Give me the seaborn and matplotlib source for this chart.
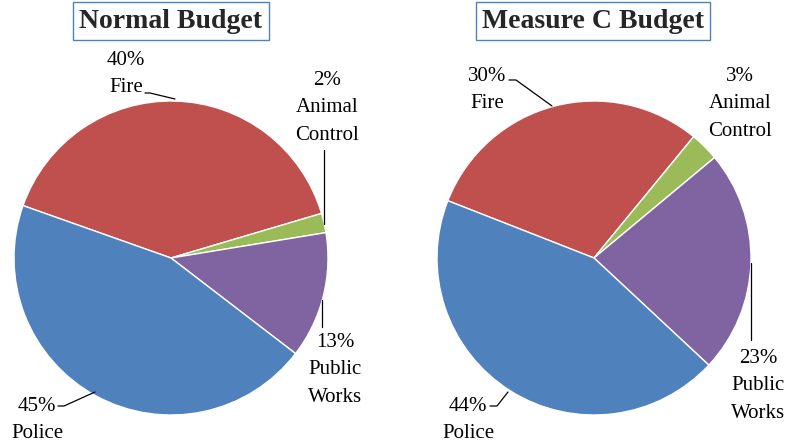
import matplotlib
matplotlib.use("Agg")
import matplotlib.pyplot as plt
import seaborn as sns

# 数据
categories = ["Police", "Fire", "Animal Control", "Public Works"]
normal_values = [45, 40, 2, 13]
measure_c_values = [44, 30, 3, 23]
titles = ["Normal Budget", "Measure C Budget"]

colors = sns.color_palette(["#4F81BD", "#C0504D", "#9BBB59", "#8064A2"])

sns.set_theme(style="white")
plt.rcParams["font.family"] = ["Liberation Serif", "DejaVu Serif"]

W, H = 788, 442
fig = plt.figure(figsize=(W / 100, H / 100), dpi=100)
ax = fig.add_axes([0, 0, 1, 1])

R = 157


# y轴翻转后pie会镜像，所以角度取负，counterclock 取反（视觉上顺时针）
def draw_pie(values, cx, cy, start):
    order = [1, 2, 3, 0]  # Fire, Animal Control, Public Works, Police
    ax.pie([values[i] for i in order], colors=[colors[i] for i in order],
           startangle=-start, counterclock=True, radius=R,
           center=(cx, cy), frame=True)


def label(text, x, y):
    ax.text(x, y, text, ha="center", va="top", fontsize=15, linespacing=1.6, color="black")


def leader(pts):
    xs, ys = zip(*pts)
    ax.plot(xs, ys, color="black", lw=0.9)


draw_pie(normal_values, 171, 258, 160.5)
draw_pie(measure_c_values, 594, 258, 158.6)
ax.set_xlim(0, W)
ax.set_ylim(H, 0)
ax.set_aspect("equal")
ax.axis("off")

# 标题
for t, x in zip(titles, [171, 593]):
    ax.text(x, 21, t, ha="center", va="center", fontsize=20, fontweight="bold",
            bbox=dict(boxstyle="square,pad=0.22", fc="white", ec="#4F81BD", lw=1))

# 左图标签
label(f"{normal_values[1]}%\nFire", 126, 51)
leader([(145, 93), (150, 93), (175, 99)])
label(f"{normal_values[2]}%\nAnimal\nControl", 327, 71)
leader([(324, 150), (324, 224)])
label(f"{normal_values[3]}%\nPublic\nWorks", 335, 333)
leader([(322, 300), (322, 327)])
label(f"{normal_values[0]}%\nPolice", 37, 397)
leader([(58, 406), (64, 406), (95, 392)])

# 右图标签
label(f"{measure_c_values[1]}%\nFire", 487, 67)
leader([(509, 80), (516, 80), (552, 106)])
label(f"{measure_c_values[2]}%\nAnimal\nControl", 740, 67)
label(f"{measure_c_values[3]}%\nPublic\nWorks", 758, 349)
leader([(751, 263), (751, 340)])
label(f"{measure_c_values[0]}%\nPolice", 468, 397)
leader([(490, 406), (497, 406), (508, 392)])

fig.savefig("out.png", dpi=100, facecolor="white")
